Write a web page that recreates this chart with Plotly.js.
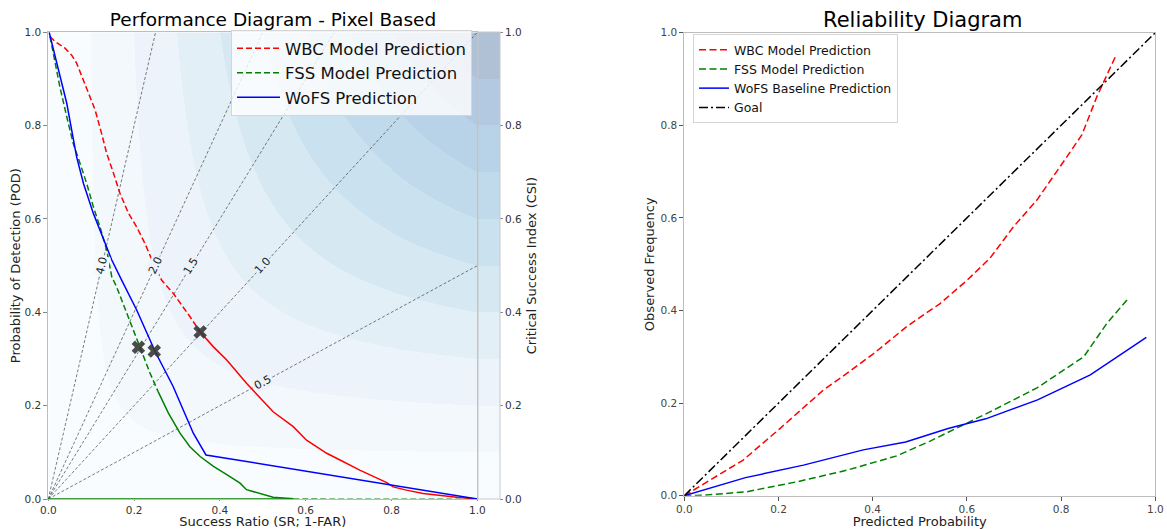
<!DOCTYPE html>
<html><head><meta charset="utf-8">
<script src="https://cdn.plot.ly/plotly-3.0.1.min.js"></script>
<style>html,body{margin:0;padding:0;background:#fff;}#chart{width:1167px;height:529px;}</style>
</head><body><div id="chart"></div>
<script>
// ---------- Performance diagram data ----------
const wbcSR  = [0.004,0.016,0.039,0.0545,0.066,0.082,0.097,0.109,0.124,0.136,0.152,0.167,0.187,0.206,0.225,0.245,0.264,0.291,0.330,0.354,0.385,0.416,0.462,0.524,0.571,0.602,0.649,0.680,0.726,0.789,0.804,0.835,0.874,0.952,1.0];
const wbcPOD = [0.991,0.980,0.966,0.951,0.934,0.898,0.862,0.834,0.784,0.741,0.698,0.655,0.612,0.583,0.548,0.505,0.469,0.441,0.391,0.358,0.326,0.298,0.248,0.187,0.155,0.126,0.098,0.0836,0.062,0.035,0.026,0.019,0.012,0.0036,0.0];

const fssSR  = [0.004,0.016,0.027,0.043,0.058,0.074,0.0895,0.105,0.1205,0.136,0.148,0.159,0.186,0.214,0.237,0.256,0.280,0.307,0.330,0.354,0.385,0.416,0.447,0.462,0.509,0.524,0.571,0.98];
const fssPOD = [0.991,0.934,0.883,0.819,0.762,0.719,0.676,0.626,0.583,0.534,0.476,0.455,0.391,0.323,0.270,0.230,0.184,0.141,0.112,0.091,0.070,0.052,0.034,0.020,0.0086,0.0036,0.0007,0.0];
const fssZeroSR  = [0.0, 0.571];
const fssZeroPOD = [0.0, 0.0];

const wofsSR  = [0.002,0.0196,0.043,0.066,0.082,0.105,0.136,0.148,0.171,0.206,0.249,0.291,0.338,0.3675,1.0];
const wofsPOD = [1.0,0.934,0.848,0.733,0.676,0.612,0.541,0.512,0.469,0.405,0.316,0.241,0.141,0.0943,0.0];

const bestSR  = [0.210, 0.247, 0.354];   // FSS, WoFS, WBC max-CSI points
const bestPOD = [0.325, 0.317, 0.358];

const biasValues = [0.5, 1.0, 1.5, 2.0, 4.0];
const csiLevels  = [0.0,0.1,0.2,0.3,0.4,0.5,0.6,0.7,0.8,0.9,1.0];
const axisTicks  = [0.0,0.2,0.4,0.6,0.8,1.0];

// ---------- Reliability diagram data ----------
const wbcRelX  = [0.0,0.125,0.203,0.295,0.345,0.402,0.472,0.543,0.600,0.649,0.699,0.749,0.798,0.844,0.876,0.917];
const wbcRelY  = [0.0,0.077,0.145,0.228,0.264,0.307,0.365,0.415,0.465,0.513,0.581,0.639,0.711,0.779,0.862,0.952];
const fssRelX  = [0.0,0.048,0.133,0.239,0.345,0.451,0.522,0.600,0.649,0.749,0.848,0.897,0.940];
const fssRelY  = [0.0,0.0015,0.0086,0.030,0.055,0.086,0.118,0.156,0.181,0.233,0.300,0.372,0.423];
const wofsRelX = [0.0,0.130,0.253,0.380,0.470,0.560,0.640,0.750,0.862,0.981];
const wofsRelY = [0.0,0.039,0.066,0.099,0.116,0.145,0.166,0.207,0.261,0.342];
const goalX = [0.0, 1.0];
const goalY = [0.0, 1.0];

// ---------- styling helpers ----------
const FONT = 'DejaVu Sans, Verdana, sans-serif';
const W = 1167, H = 529;
const L = {x0:48.3, x1:477.3, y0:499, y1:32.3};   // left plot box (px)
const R = {x0:684.3, x1:1155.3, y0:495.7, y1:32.7}; // right plot box (px)
const dom = (a,b,n)=>[a/n,b/n];
const vdom = (top,bot)=>[1-bot/H,1-top/H];

// Blues colormap anchors, blended over white (alpha) like a translucent contourf
const bluesAnchors = [[247,251,255],[222,235,247],[198,219,239],[158,202,225],[107,174,214],[66,146,198],[33,113,181],[8,81,156],[8,48,107]];
const ALPHA = 0.32;
function blues(t){
  const p = t*8, i = Math.min(7, Math.floor(p)), f = p - i;
  const a = bluesAnchors[i], b = bluesAnchors[i+1];
  return [0,1,2].map(k => a[k] + (b[k]-a[k])*f);
}
function bandColor(i){
  const c = blues((csiLevels[i]+csiLevels[i+1])/2).map(v => Math.round(255 - ALPHA*(255-v)));
  return 'rgb('+c.join(',')+')';
}
const colorscale = [];
for(let i=0;i<csiLevels.length-1;i++){
  colorscale.push([csiLevels[i], bandColor(i)]);
  colorscale.push([csiLevels[i+1], bandColor(i)]);
}
function csi(sr,pod){ return 1/(1/sr + 1/pod - 1); }
function bandOf(v){ let i = Math.floor(v*10); return Math.max(0, Math.min(9, i)); }

// CSI background field
const NX = 430, NY = 467;
const gx = [], gy = [], gz = [];
for(let i=0;i<NX;i++) gx.push((i+0.5)/NX);
for(let j=0;j<NY;j++) gy.push((j+0.5)/NY);
for(let j=0;j<NY;j++){ gz.push(gx.map(sr => csi(sr, gy[j]))); }

const traces = [];
traces.push({
  type:'heatmap', x:gx, y:gy, z:gz, zmin:0, zmax:1, zsmooth:false,
  colorscale:colorscale, hoverinfo:'skip', xaxis:'x', yaxis:'y',
  colorbar:{
    x:478/W, xanchor:'left', xref:'paper', xpad:0, ypad:0,
    y:1-(L.y0+L.y1)/2/H, yanchor:'middle', yref:'paper',
    len:(L.y0-L.y1)/H, lenmode:'fraction', thickness:22, thicknessmode:'pixels',
    outlinewidth:1, outlinecolor:'#c8c8c8',
    tickvals:axisTicks, tickformat:'.1f', ticks:'outside', ticklen:3, tickcolor:'#888',
    tickfont:{family:FONT, size:10.5, color:'#333'},
    title:{text:'Critical Success Index (CSI)', side:'right', font:{family:FONT, size:13, color:'#222'}}
  }
});

// bias lines and their labels
const pw = L.x1-L.x0, ph = L.y0-L.y1;
const annotations = [];
biasValues.forEach(b => {
  const ex = b>=1 ? 1/b : 1, ey = b>=1 ? 1 : b;
  traces.push({type:'scatter', mode:'lines', x:[0,ex], y:[0,ey], xaxis:'x', yaxis:'y',
    line:{color:'#444', width:0.7, dash:'3px,2px'}, showlegend:false, hoverinfo:'skip'});
  const mx = ex/2, my = ey/2;
  const ang = Math.atan(b*ph/pw)*180/Math.PI;
  annotations.push({xref:'x', yref:'y', x:mx, y:my, text:b.toFixed(1), showarrow:false,
    textangle:-ang, font:{family:FONT, size:11, color:'#222'},
    bgcolor:bandColor(bandOf(csi(mx,my))), borderpad:0});
});

function seg(arrX, arrY, a, b){ return [arrX.slice(a,b+1), arrY.slice(a,b+1)]; }
const wbcSplit = wbcSR.indexOf(0.354);
const fssSplit = fssSR.indexOf(0.256);
const fssEnd = fssSR.indexOf(0.571);

let s;
s = seg(wbcSR, wbcPOD, 0, wbcSplit);
traces.push({type:'scatter', mode:'lines', x:s[0], y:s[1], name:'WBC Model Prediction', legend:'legend',
  line:{color:'#ff0000', width:1.5, dash:'6px,3px'}, xaxis:'x', yaxis:'y'});
s = seg(wbcSR, wbcPOD, wbcSplit, wbcSR.length-1);
traces.push({type:'scatter', mode:'lines', x:s[0], y:s[1], showlegend:false,
  line:{color:'#ff0000', width:1.5}, xaxis:'x', yaxis:'y'});

s = seg(fssSR, fssPOD, 0, fssSplit);
traces.push({type:'scatter', mode:'lines', x:s[0], y:s[1], name:'FSS Model Prediction', legend:'legend',
  line:{color:'#008000', width:1.5, dash:'6px,3px'}, xaxis:'x', yaxis:'y'});
s = seg(fssSR, fssPOD, fssSplit, fssEnd);
traces.push({type:'scatter', mode:'lines', x:s[0], y:s[1], showlegend:false,
  line:{color:'#008000', width:1.5}, xaxis:'x', yaxis:'y'});
s = seg(fssSR, fssPOD, fssEnd, fssSR.length-1);
traces.push({type:'scatter', mode:'lines', x:s[0], y:s[1], showlegend:false,
  line:{color:'rgba(0,128,0,0.6)', width:1.2, dash:'6px,3px'}, xaxis:'x', yaxis:'y'});
traces.push({type:'scatter', mode:'lines', x:fssZeroSR, y:fssZeroPOD, showlegend:false,
  line:{color:'#008000', width:1.5}, xaxis:'x', yaxis:'y'});

traces.push({type:'scatter', mode:'lines', x:wofsSR, y:wofsPOD, name:'WoFS Prediction', legend:'legend',
  line:{color:'#0000ff', width:1.5}, xaxis:'x', yaxis:'y'});

traces.push({type:'scatter', mode:'markers', x:bestSR, y:bestPOD, showlegend:false,
  marker:{symbol:'x', size:12, color:'rgba(55,55,55,0.9)', line:{width:0}}, xaxis:'x', yaxis:'y'});

// reliability traces
traces.push({type:'scatter', mode:'lines', x:wbcRelX, y:wbcRelY, name:'WBC Model Prediction', legend:'legend2',
  line:{color:'#ff0000', width:1.5, dash:'7px,3.5px'}, xaxis:'x2', yaxis:'y2'});
traces.push({type:'scatter', mode:'lines', x:fssRelX, y:fssRelY, name:'FSS Model Prediction', legend:'legend2',
  line:{color:'#008000', width:1.5, dash:'7px,3.5px'}, xaxis:'x2', yaxis:'y2'});
traces.push({type:'scatter', mode:'lines', x:wofsRelX, y:wofsRelY, name:'WoFS Baseline Prediction', legend:'legend2',
  line:{color:'#0000ff', width:1.5}, xaxis:'x2', yaxis:'y2'});
traces.push({type:'scatter', mode:'lines', x:goalX, y:goalY, name:'Goal', legend:'legend2',
  line:{color:'#000000', width:1.5, dash:'9px,3px,2px,3px'}, xaxis:'x2', yaxis:'y2'});

function axis(extra){
  return Object.assign({range:[0,1], tickvals:axisTicks, tickformat:'.1f', ticks:'outside', ticklen:4,
    tickcolor:'#888', showline:true, mirror:true, linecolor:'#bdbdbd', linewidth:1,
    showgrid:false, zeroline:false, fixedrange:true, automargin:false,
    tickfont:{family:FONT, size:10.5, color:'#333'}}, extra);
}

annotations.push({xref:'paper', yref:'paper', x:922/W, y:1-20/H, xanchor:'center', yanchor:'middle',
  text:'Reliability Diagram', showarrow:false, font:{family:FONT, size:21, color:'#000'}});

const layout = {
  width:W, height:H, margin:{l:0,r:0,t:0,b:0}, paper_bgcolor:'#fff', plot_bgcolor:'rgba(0,0,0,0)',
  font:{family:FONT},
  title:{text:'Performance Diagram - Pixel Based', x:273/W, y:1-20/H, xanchor:'center', yanchor:'middle',
    xref:'paper', yref:'container', font:{family:FONT, size:18.5, color:'#000'}},
  xaxis: axis({domain:dom(L.x0,L.x1,W), anchor:'y', ticklen:1,
    title:{text:'Success Ratio (SR; 1-FAR)', font:{family:FONT, size:13, color:'#222'}, standoff:3}}),
  yaxis: axis({domain:vdom(L.y1,L.y0), anchor:'x',
    title:{text:'Probability of Detection (POD)', font:{family:FONT, size:13, color:'#222'}, standoff:0}}),
  xaxis2: axis({domain:dom(R.x0,R.x1,W), anchor:'y2', tickcolor:'#555', tickfont:{family:FONT, size:10.5, color:'#444'},
    title:{text:'Predicted Probability', font:{family:FONT, size:13, color:'#222'}, standoff:2}}),
  yaxis2: axis({domain:vdom(R.y1,R.y0), anchor:'x2', tickcolor:'#555', tickfont:{family:FONT, size:10.5, color:'#444'},
    title:{text:'Observed Frequency', font:{family:FONT, size:13, color:'#222'}, standoff:2}}),
  legend:{x:231/W, y:1-30/H, xanchor:'left', yanchor:'top', xref:'paper', yref:'paper', itemwidth:43,
    bgcolor:'rgba(255,255,255,0.8)', bordercolor:'#d5d5d5', borderwidth:1,
    font:{family:FONT, size:16.5, color:'#111'}},
  legend2:{x:693/W, y:1-34/H, xanchor:'left', yanchor:'top', xref:'paper', yref:'paper',
    bgcolor:'rgba(255,255,255,0.8)', bordercolor:'#d5d5d5', borderwidth:1,
    font:{family:FONT, size:12.5, color:'#111'}},
  annotations:annotations,
  showlegend:true
};

Plotly.newPlot('chart', traces, layout, {displayModeBar:false, staticPlot:true});
</script></body></html>
